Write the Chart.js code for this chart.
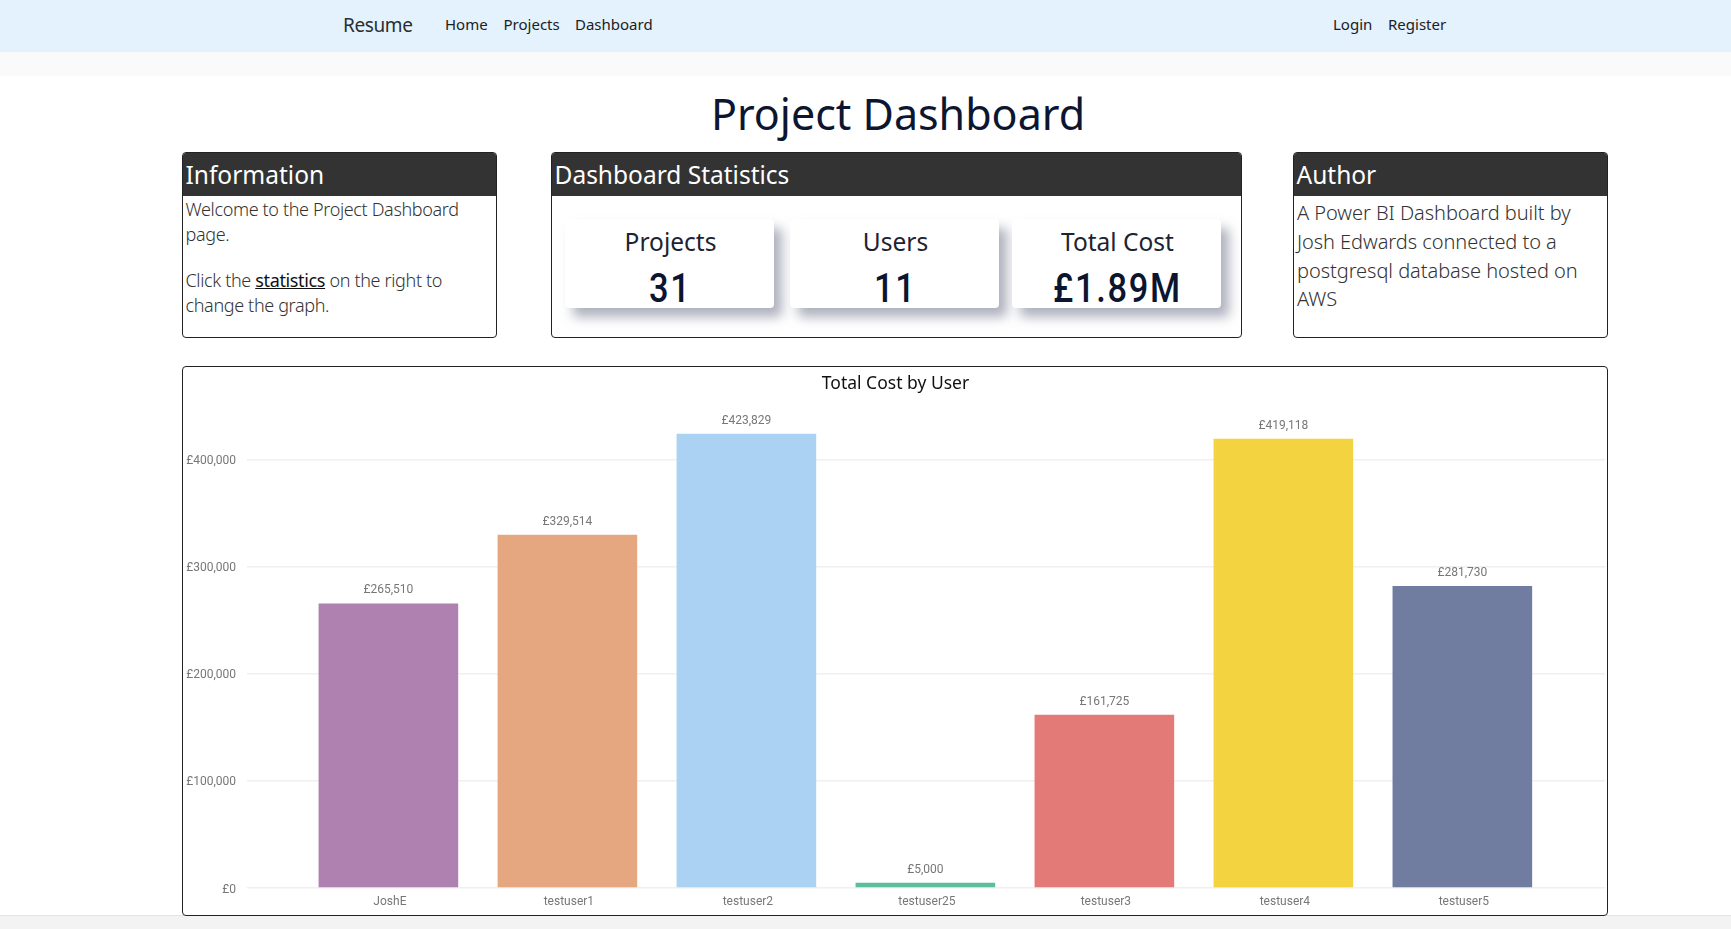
<!DOCTYPE html>
<html lang="en">
<head>
<meta charset="utf-8">
<title>Project Dashboard</title>
<script src="https://cdn.jsdelivr.net/npm/chart.js@4"></script>
<style>
    html, body { margin: 0; height: 100%; overflow: hidden; background: #fff; font-family: "Noto Sans", sans-serif; color: #0f172a; }
    .abs { position: absolute; white-space: nowrap; }
    .nav { position: absolute; left: 0; top: 0; width: 100%; height: 52px; background: #e3f2fd; }
    .strip { position: absolute; left: 0; top: 52px; width: 100%; height: 24px; background: #fafafa; }
    .footer { position: absolute; left: 0; top: 915px; width: 100%; height: 14px; background: #f3f3f3; border-top: 1px solid #e4e4e4; box-sizing: border-box; }
    .nav-link { font-size: 15px; line-height: 20px; top: 14px; color: #1c2024; }
    .brand { font-size: 19px; line-height: 26px; left: 343px; top: 12px; color: #2a2e33; letter-spacing: -0.4px; }
    h1 { margin: 0; font-size: 43px; font-weight: 400; line-height: 60px; left: 0; width: 1796px; top: 84px; text-align: center; color: #0d1630; }
    .panel { position: absolute; box-sizing: border-box; border: 1.5px solid #222; border-radius: 4px; top: 152px; height: 186px; background: #fff; overflow: hidden; }
    .panel h2 { margin: 0; height: 43px; background: #333; color: #fff; font-size: 24.5px; font-weight: 400; line-height: 44px; padding-left: 2.5px; }
    .info { font-size: 18px; font-weight: 300; line-height: 25px; padding: 1px 0 0 2.5px; color: #333; letter-spacing: -0.35px; }
    .info p { margin: 0 0 21px; }
    .info a { color: #111; font-weight: 400; }
    .author { font-size: 20px; font-weight: 300; line-height: 28.8px; padding: 3px 0 0 3px; color: #333; letter-spacing: -0.05px; }
    .card { position: absolute; top: 219px; width: 209px; height: 89px; background: #fff; border-radius: 4px; box-shadow: 8px 9px 12px rgba(120, 125, 145, 0.6); text-align: center; }
    .card .name { font-size: 24.5px; line-height: 30px; margin-top: 8px; padding-left: 2px; color: #1d2330; }
    .card .num { font-family: Roboto, sans-serif; font-size: 41px; font-weight: 500; line-height: 50px; margin-top: 6px; padding-left: 2px; letter-spacing: 2px; transform: scaleX(0.84); color: #0b1530; }
    .chart-panel { position: absolute; box-sizing: border-box; left: 182px; top: 366px; width: 1426px; height: 550px; border: 1.5px solid #222; border-radius: 4px; background: #fff; }
    canvas { position: absolute; left: 184px; top: 369px; }
</style>
</head>
<body>
<div class="nav"></div>
<div class="strip"></div>
<div class="footer"></div>
<div class="abs brand">Resume</div>
<div class="abs nav-link" style="left:445px">Home</div>
<div class="abs nav-link" style="left:503.5px">Projects</div>
<div class="abs nav-link" style="left:575px">Dashboard</div>
<div class="abs nav-link" style="left:1333px">Login</div>
<div class="abs nav-link" style="left:1388px">Register</div>
<h1 class="abs">Project Dashboard</h1>

<div class="panel" style="left:182px;width:315px">
    <h2>Information</h2>
    <div class="info">
        <p>Welcome to the Project Dashboard<br>page.</p>
        <p>Click the <a href="#">statistics</a> on the right to<br>change the graph.</p>
    </div>
</div>
<div class="panel" style="left:551px;width:691px">
    <h2>Dashboard Statistics</h2>
</div>
<div class="panel" style="left:1293px;width:315px">
    <h2>Author</h2>
    <div class="author">A Power BI Dashboard built by<br>Josh Edwards connected to a<br>postgresql database hosted on<br>AWS</div>
</div>

<div class="card" style="left:565px"><div class="name">Projects</div><div class="num">31</div></div>
<div class="card" style="left:790px"><div class="name">Users</div><div class="num">11</div></div>
<div class="card" style="left:1012px"><div class="name">Total Cost</div><div class="num">£1.89M</div></div>

<div class="chart-panel"></div>
<canvas id="costChart" width="1423" height="545"></canvas>

<script>
const categories = ['JoshE', 'testuser1', 'testuser2', 'testuser25', 'testuser3', 'testuser4', 'testuser5'];
const totalCost = [265510, 329514, 423829, 5000, 161725, 419118, 281730];
const barColors = ['#ae81b1', '#e4a77f', '#abd2f3', '#5cbe9c', '#e37a78', '#f4d341', '#707ca0'];
const costTicks = [0, 100000, 200000, 300000, 400000];

const money = (v) => '£' + v.toLocaleString('en-GB');

// no datalabels plugin here, so the values over the bars are drawn by hand
const barLabels = {
    id: 'barLabels',
    afterDatasetsDraw(chart) {
        const { ctx } = chart;
        ctx.save();
        ctx.font = '12px Roboto';
        ctx.fillStyle = '#777';
        ctx.textAlign = 'center';
        ctx.textBaseline = 'middle';
        chart.getDatasetMeta(0).data.forEach((bar, i) => {
            ctx.fillText(money(totalCost[i]), bar.x, bar.y - 13);
        });
        ctx.restore();
    }
};

new Chart(document.getElementById('costChart'), {
    type: 'bar',
    data: {
        datasets: [{
            data: totalCost.map((v, i) => ({ x: i, y: v })),
            backgroundColor: barColors,
            barPercentage: 0.78,
            categoryPercentage: 1
        }]
    },
    options: {
        responsive: false,
        animation: false,
        layout: { padding: { left: 2, right: 2 } },
        plugins: {
            legend: { display: false },
            title: {
                display: true,
                text: 'Total Cost by User',
                color: '#111',
                font: { family: '"Noto Sans"', size: 17.5, weight: 400 },
                padding: { top: 4.5, bottom: 21.9 }
            }
        },
        scales: {
            x: {
                type: 'linear',
                offset: false,
                min: -0.79,
                max: 6.797,
                afterBuildTicks: (s) => { s.ticks = categories.map((_, i) => ({ value: i })); },
                afterFit: (s) => { s.height = 26; },
                grid: { display: false, drawTicks: false },
                border: { display: false },
                ticks: {
                    callback: (v) => categories[v],
                    autoSkip: false,
                    maxRotation: 0,
                    labelOffset: 1.5,
                    padding: 7,
                    color: '#777',
                    font: { family: 'Roboto', size: 12 }
                }
            },
            y: {
                min: 0,
                max: 440000,
                afterBuildTicks: (s) => { s.ticks = costTicks.map((v) => ({ value: v })); },
                afterFit: (s) => { s.width = 61; },
                grid: { color: '#f0f0f0', lineWidth: 1.5, drawTicks: false },
                border: { display: false },
                ticks: {
                    callback: (v) => money(v),
                    labelOffset: 1.5,
                    padding: 11,
                    color: '#777',
                    font: { family: 'Roboto', size: 12 }
                }
            }
        }
    },
    plugins: [barLabels]
});
</script>
</body>
</html>
